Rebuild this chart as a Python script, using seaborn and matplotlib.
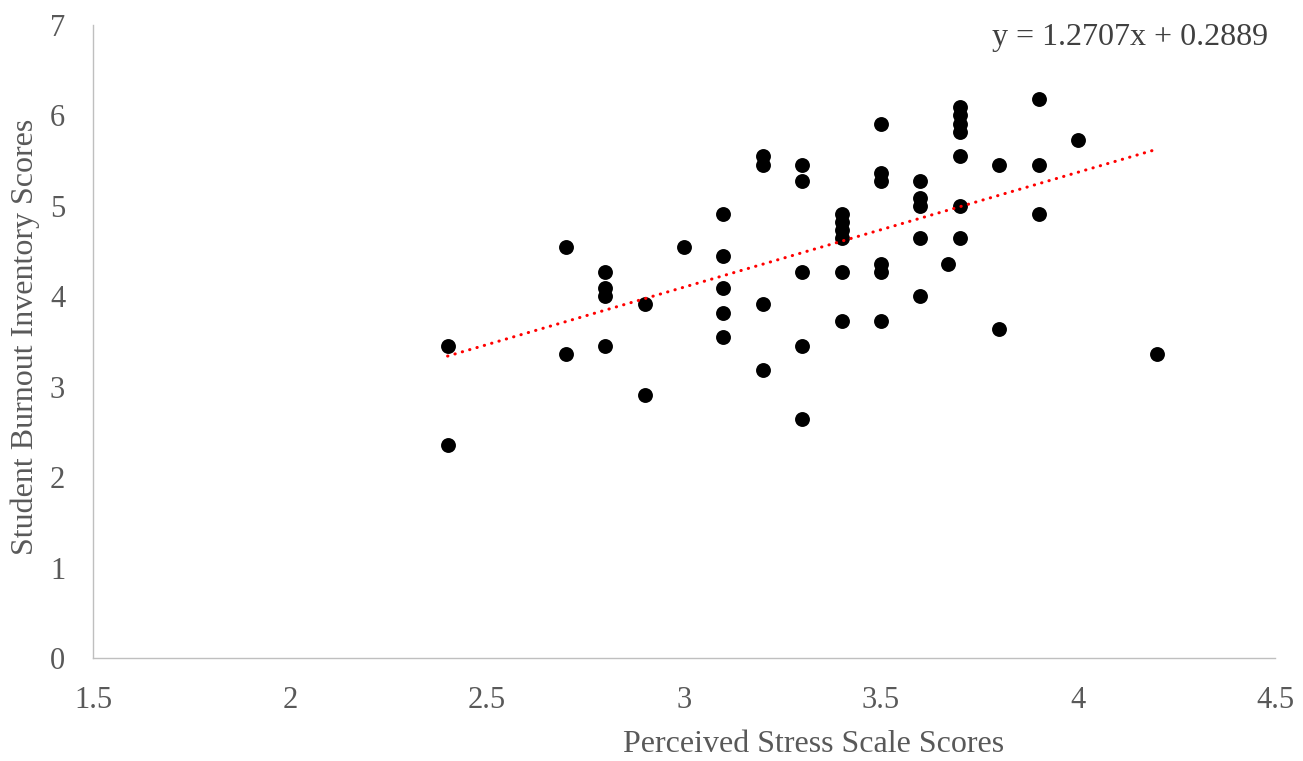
### Scatter of perceived stress vs student burnout with linear trendline
import matplotlib.pyplot as plt
import numpy as np
import pandas as pd
import seaborn as sns

## data (PSS score, SBI score)
pss_scores = [
    2.4, 2.4,
    2.7, 2.7,
    2.8, 2.8, 2.8, 2.8,
    2.9, 2.9,
    3.0,
    3.1, 3.1, 3.1, 3.1, 3.1,
    3.2, 3.2, 3.2, 3.2,
    3.3, 3.3, 3.3, 3.3, 3.3,
    3.4, 3.4, 3.4, 3.4, 3.4, 3.4,
    3.5, 3.5, 3.5, 3.5, 3.5, 3.5,
    3.6, 3.6, 3.6, 3.6, 3.6,
    3.67,
    3.7, 3.7, 3.7, 3.7, 3.7, 3.7, 3.7,
    3.8, 3.8,
    3.9, 3.9, 3.9,
    4.0,
    4.2,
]
sbi_scores = [
    3.45, 2.36,
    4.55, 3.36,
    4.27, 4.09, 4.00, 3.45,
    3.91, 2.91,
    4.55,
    4.91, 4.45, 4.09, 3.82, 3.55,
    5.55, 5.45, 3.91, 3.18,
    5.45, 5.27, 4.27, 3.45, 2.64,
    4.91, 4.82, 4.73, 4.64, 4.27, 3.73,
    5.91, 5.36, 5.27, 4.36, 4.27, 3.73,
    5.27, 5.09, 5.00, 4.64, 4.00,
    4.36,
    6.09, 6.00, 5.91, 5.82, 5.55, 5.00, 4.64,
    5.45, 3.64,
    6.18, 5.45, 4.91,
    5.73,
    3.36,
]
# trendline coefficients as printed on the chart
slope = 1.2707
intercept = 0.2889
x_ticks = [1.5, 2, 2.5, 3, 3.5, 4, 4.5]
y_ticks = [0, 1, 2, 3, 4, 5, 6, 7]

df = pd.DataFrame({"pss": pss_scores, "sbi": sbi_scores})
trend = pd.DataFrame({"pss": [min(pss_scores), max(pss_scores)]})
trend["sbi"] = slope * trend["pss"] + intercept

sns.set_style("white")
plt.rcParams["font.family"] = ["Liberation Serif", "DejaVu Serif"]

fig = plt.figure(figsize=(13.03, 7.61), dpi=100)
ax = fig.add_axes([93 / 1303, 1 - 658 / 761, (1275 - 93) / 1303, (658 - 25) / 761])

sns.scatterplot(data=df, x="pss", y="sbi", ax=ax, color="black", s=115,
                linewidth=0, zorder=3)
sns.lineplot(data=trend, x="pss", y="sbi", ax=ax, color="#ff0000",
             linewidth=2.2, dashes=False, zorder=4)
ax.lines[-1].set_linestyle((0, (0.1, 2.4)))
ax.lines[-1].set_dash_capstyle("round")

ax.set_xlim(1.5, 4.5)
ax.set_ylim(0, 7)
ax.set_xticks(x_ticks)
ax.set_xticklabels([f"{t:g}" for t in x_ticks])
ax.set_yticks(y_ticks)
ax.tick_params(axis="both", length=0, labelsize=22, labelcolor="#595959")
ax.tick_params(axis="x", pad=20)
ax.tick_params(axis="y", pad=20)

for side in ["top", "right"]:
    ax.spines[side].set_visible(False)
for side in ["left", "bottom"]:
    ax.spines[side].set_color("#bfbfbf")
    ax.spines[side].set_linewidth(1.0)
ax.grid(False)

ax.set_xlabel("Perceived Stress Scale Scores", fontsize=23, color="#595959",
              va="center")
ax.xaxis.set_label_coords(0.61, -0.137)
ax.set_ylabel("Student Burnout Inventory Scores", fontsize=23, color="#595959",
              va="center")
ax.yaxis.set_label_coords(-0.0575, 0.507)

fig.text(1268 / 1303, 1 - 38 / 761, f"y = {slope}x + {intercept}",
         ha="right", va="center", fontsize=23, color="#404040")

plt.savefig("out.png", dpi=100)
plt.close()
